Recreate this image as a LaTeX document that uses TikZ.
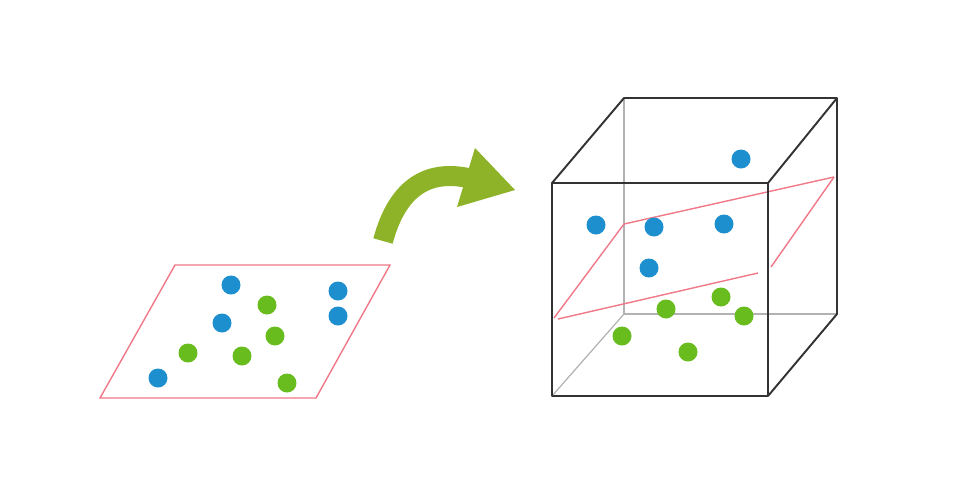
\documentclass[tikz,border=0pt]{standalone}
\usetikzlibrary{calc}
\definecolor{dotblue}{RGB}{30,143,206}
\definecolor{dotgreen}{RGB}{104,188,30}
\definecolor{arrowgreen}{RGB}{142,178,40}
\definecolor{planered}{RGB}{240,120,135}
\tikzset{
	bluedot/.style={
		circle, inner sep=0pt, minimum size=0.38cm, fill=dotblue
	},
	%
	greendot/.style={
		circle, inner sep=0pt, minimum size=0.38cm, fill=dotgreen
	},
	%
	planeline/.style={
		draw=planered, line width=0.8pt
	},
	%
	cubeedge/.style={
		draw=black!80, line width=1.1pt, line join=round
	},
	%
	hiddenedge/.style={
		draw=black!30, line width=0.7pt
	}
}
\begin{document}
\begin{tikzpicture}[x=0.02cm, y=-0.02cm]
    \useasboundingbox (0,0) rectangle (980,495);
    % flat plane
    \coordinate (p1) at (175,265);
    \coordinate (p2) at (390,265);
    \coordinate (p3) at (316,398);
    \coordinate (p4) at (100,398);
    \draw[planeline] (p1) -- (p2) -- (p3) -- (p4) -- cycle;
    \foreach \x/\y [count=\i] in {231/285, 222/323, 338/291, 338/316, 158/378}
        \node(pb\i)[bluedot] at (\x,\y){};
    \foreach \x/\y [count=\i] in {267/305, 275/336, 188/353, 242/356, 287/383}
        \node(pg\i)[greendot] at (\x,\y){};
    % arrow
    \coordinate (a1) at (383,241);
    \coordinate (a2) at (468,178);
    \coordinate (h1) at (475,148);
    \coordinate (h2) at (515,190);
    \coordinate (h3) at (457,207);
    \draw[line width=0.4cm, arrowgreen] (a1) .. controls (398,185) and (430,170) .. (a2);
    \fill[arrowgreen] (h1) -- (h2) -- (h3) -- cycle;
    % cube
    \coordinate (f1) at (552,183);
    \coordinate (f2) at (768,183);
    \coordinate (f3) at (768,396);
    \coordinate (f4) at (552,396);
    \coordinate (k1) at (624,98);
    \coordinate (k2) at (837,98);
    \coordinate (k3) at (837,314);
    \coordinate (k4) at (624,314);
    \draw[hiddenedge] (k1) -- (k4) -- (k3);
    \draw[hiddenedge] (k4) -- (f4);
    % plane inside the cube
    \coordinate (c1) at (624,224);
    \coordinate (c2) at (834,177);
    \draw[planeline] (c2) -- (c1) -- (554,318);
    \draw[planeline] (558,319) -- (758,273);
    \draw[planeline] (c2) -- (771,267);
    \foreach \x/\y [count=\i] in {741/159, 596/225, 654/227, 724/224, 649/268}
        \node(cb\i)[bluedot] at (\x,\y){};
    \foreach \x/\y [count=\i] in {721/297, 666/309, 744/316, 622/336, 688/352}
        \node(cg\i)[greendot] at (\x,\y){};
    \draw[cubeedge] (f1) -- (k1) -- (k2) -- (k3) -- (f3);
    \draw[cubeedge] (f2) -- (k2);
    \draw[cubeedge] (f1) rectangle (f3);
\end{tikzpicture}
\end{document}
